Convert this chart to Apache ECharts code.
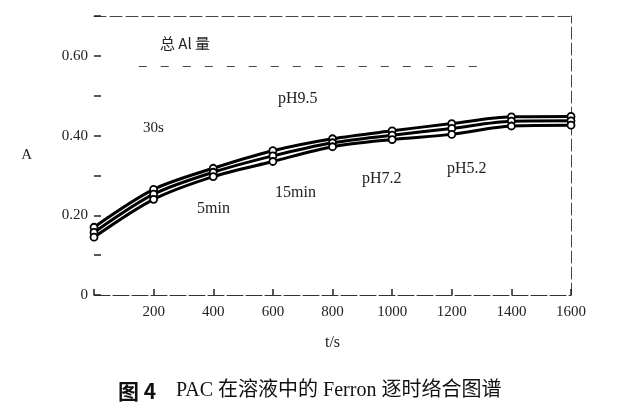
<!DOCTYPE html>
<html><head><meta charset="utf-8">
<script src="https://cdn.jsdelivr.net/npm/echarts@6/dist/echarts.min.js"></script>
<style>html,body{margin:0;padding:0;background:#fff}#c{width:619px;height:420px}</style>
</head><body><div id="c"></div>
<script>
var times = [0, 200, 400, 600, 800, 1000, 1200, 1400, 1600];
var xTickLabels = ['', '200', '400', '600', '800', '1000', '1200', '1400', '1600'];
var yTickLabels = {0: '0', 0.2: '0.20', 0.4: '0.40', 0.6: '0.60'};
var pH95 = [0.170, 0.265, 0.318, 0.362, 0.392, 0.412, 0.430, 0.447, 0.448];
var pH72 = [0.157, 0.253, 0.308, 0.349, 0.382, 0.401, 0.418, 0.436, 0.437];
var pH52 = [0.145, 0.240, 0.297, 0.335, 0.372, 0.390, 0.403, 0.424, 0.426];
var totalAl = 0.575;
var totalAlRange = [150, 1300];

function pairs(arr){ return times.map(function(t,i){ return [t, arr[i]]; }); }
var serif = 'Liberation Serif';
function mkSeries(name, arr){
  return {
    name: name, type: 'line', smooth: 0.3, data: pairs(arr),
    symbol: 'circle', symbolSize: 7,
    itemStyle: {color: '#fff', borderColor: '#000', borderWidth: 1.8},
    lineStyle: {color: '#000', width: 3},
    z: 3
  };
}
var chart = echarts.init(document.getElementById('c'));
var series = [mkSeries('pH9.5', pH95), mkSeries('pH7.2', pH72), mkSeries('pH5.2', pH52)];
series[0].markLine = {
  silent: true, symbol: 'none', label: {show: false},
  lineStyle: {color: '#444', type: [8, 14], width: 1},
  data: [[{coord: [totalAlRange[0], totalAl]}, {coord: [totalAlRange[1], totalAl]}]]
};
var dashedLine = {show: true, onZero: false, lineStyle: {color: '#444', type: [12, 4], width: 1}};
chart.setOption({
  animation: false,
  backgroundColor: '#fff',
  grid: {left: 94, right: 48, top: 16, bottom: 125, show: false},
  xAxis: [{
    type: 'value', min: 0, max: 1600, interval: 200,
    name: 't/s', nameLocation: 'middle', nameGap: 40,
    nameTextStyle: {fontFamily: serif, fontSize: 16, color: '#222'},
    axisLine: {show: true, onZero: false, lineStyle: {color: '#333', type: [16, 3]}},
    axisTick: {show: true, inside: true, length: 6, lineStyle: {color: '#222', width: 1.5}},
    axisLabel: {fontFamily: serif, fontSize: 15, color: '#222', margin: 10,
      formatter: function(v){ return xTickLabels[times.indexOf(v)] || ''; }},
    splitLine: {show: false}
  }, {
    type: 'value', position: 'top', min: 0, max: 1600, interval: 200,
    axisLine: dashedLine, axisTick: {show: false}, axisLabel: {show: false}, splitLine: {show: false}
  }],
  yAxis: [{
    type: 'value', min: 0, max: 0.7, interval: 0.1,
    name: 'A', nameLocation: 'middle', nameGap: 62, nameRotate: 0,
    nameTextStyle: {fontFamily: serif, fontSize: 15, color: '#222'},
    axisLine: {show: false},
    axisTick: {show: true, inside: true, length: 7, lineStyle: {color: '#222', width: 1.5}},
    axisLabel: {fontFamily: serif, fontSize: 15, color: '#222', margin: 6,
      formatter: function(v){ var k = Math.round(v*10)/10; return yTickLabels[k] !== undefined ? yTickLabels[k] : ''; }},
    splitLine: {show: false}
  }, {
    type: 'value', position: 'right', min: 0, max: 0.7, interval: 0.1,
    axisLine: dashedLine, axisTick: {show: false}, axisLabel: {show: false}, splitLine: {show: false}
  }],
  series: series,
  graphic: [
    {type: 'text', left: 160, top: 36, style: {text: '总 Al 量', font: '15px "Noto Sans CJK SC"', fill: '#222'}},
    {type: 'text', left: 278, top: 91, style: {text: 'pH9.5', font: '16px "Liberation Serif"', fill: '#222'}},
    {type: 'text', left: 143, top: 121, style: {text: '30s', font: '15px "Liberation Serif"', fill: '#222'}},
    {type: 'text', left: 197, top: 201, style: {text: '5min', font: '16px "Liberation Serif"', fill: '#222'}},
    {type: 'text', left: 275, top: 185, style: {text: '15min', font: '16px "Liberation Serif"', fill: '#222'}},
    {type: 'text', left: 362, top: 171, style: {text: 'pH7.2', font: '16px "Liberation Serif"', fill: '#222'}},
    {type: 'text', left: 447, top: 161, style: {text: 'pH5.2', font: '16px "Liberation Serif"', fill: '#222'}},
    {type: 'text', left: 118, top: 381, style: {text: '图 4', font: 'bold 21px "Noto Sans CJK SC"', fill: '#111'}},
    {type: 'text', left: 176, top: 381, style: {text: 'PAC 在溶液中的 Ferron 逐时络合图谱', font: '20px "Liberation Serif", "Noto Sans CJK SC"', fill: '#111'}}
  ]
});
</script></body></html>
